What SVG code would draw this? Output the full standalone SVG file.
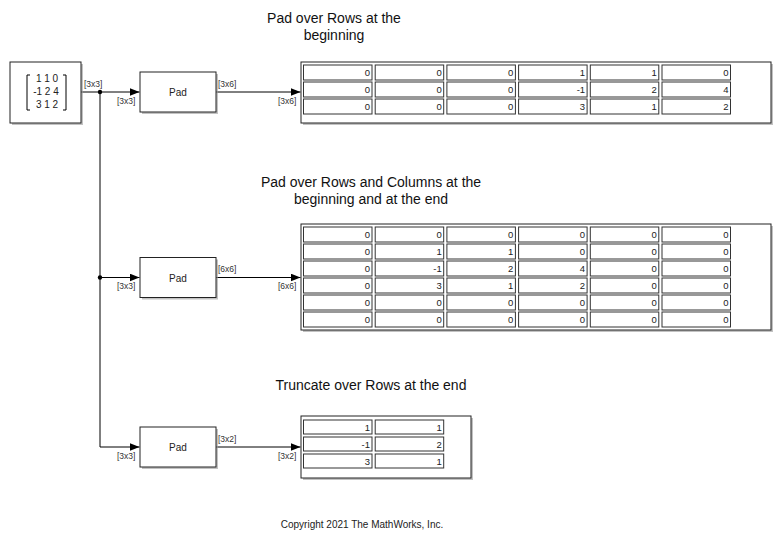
<svg xmlns="http://www.w3.org/2000/svg" width="782" height="543" viewBox="0 0 782 543">
<defs>
<style>
.blk{fill:#fff;stroke:#222;stroke-width:1}
.sh{fill:#999;opacity:0.6}
.cell{fill:#fff;stroke:#333;stroke-width:1}
.v{font-family:"Liberation Sans",Arial,sans-serif;font-size:9.5px;fill:#222;text-anchor:end}
.lbl{font-family:"Liberation Sans",Arial,sans-serif;font-size:8.5px;fill:#333}
.ttl{font-family:"Liberation Sans",Arial,sans-serif;font-size:14px;fill:#111;text-anchor:middle}
.bt{font-family:"Liberation Sans",Arial,sans-serif;font-size:10px;fill:#222;text-anchor:middle}
.ln{fill:none;stroke:#000;stroke-width:1}
</style>
<marker id="ah" markerWidth="10" markerHeight="8" refX="10" refY="4" orient="auto" markerUnits="userSpaceOnUse">
<path d="M0,0 L10,4 L0,8 Z" fill="#000"/>
</marker>
</defs>
<rect width="782" height="543" fill="#fff"/>

<text class="ttl" x="334" y="23">Pad over Rows at the</text>
<text class="ttl" x="334" y="40">beginning</text>
<text class="ttl" x="371" y="187">Pad over Rows and Columns at the</text>
<text class="ttl" x="371" y="204">beginning and at the end</text>
<text class="ttl" x="371" y="390">Truncate over Rows at the end</text>
<text x="362" y="528" style="font-family:'Liberation Sans',Arial,sans-serif;font-size:10px;fill:#222;text-anchor:middle">Copyright 2021 The MathWorks, Inc.</text>

<g id="connectors">
<path class="ln" d="M81,92 H139.5" marker-end="url(#ah)"/>
<path class="ln" d="M100,92 V447 H139.5" marker-end="url(#ah)"/>
<path class="ln" d="M100,277.5 H139.5" marker-end="url(#ah)"/>
<circle cx="100" cy="92" r="2.2" fill="#000"/>
<circle cx="100" cy="277.5" r="2.2" fill="#000"/>
<path class="ln" d="M216,92 H300.5" marker-end="url(#ah)"/>
<path class="ln" d="M216,277.5 H300.5" marker-end="url(#ah)"/>
<path class="ln" d="M216,447 H300.5" marker-end="url(#ah)"/>
<text class="lbl" x="84" y="87">[3x3]</text>
<text class="lbl" x="117" y="104">[3x3]</text>
<text class="lbl" x="218" y="87">[3x6]</text>
<text class="lbl" x="278" y="104">[3x6]</text>
<text class="lbl" x="117" y="289">[3x3]</text>
<text class="lbl" x="218" y="272">[6x6]</text>
<text class="lbl" x="278" y="289">[6x6]</text>
<text class="lbl" x="117" y="459">[3x3]</text>
<text class="lbl" x="218" y="442">[3x2]</text>
<text class="lbl" x="278" y="459">[3x2]</text>
</g>

<g id="constant">
<rect class="sh" x="12" y="64" width="71" height="61"/>
<rect class="blk" x="10" y="62" width="71" height="61"/>
<path class="ln" d="M30,75 H27 V110 H30 M63,75 H66 V110 H63" stroke-width="0.9"/>
<text class="bt" x="47" y="82">1 1 0</text>
<text class="bt" x="46" y="95">-1 2 4</text>
<text class="bt" x="47" y="108">3 1 2</text>
</g>

<g id="pad1">
<rect class="sh" x="142" y="74" width="76" height="40"/>
<rect class="blk" x="140" y="72" width="76" height="40"/>
<text class="bt" x="178" y="96">Pad</text>
</g>
<g id="pad2">
<rect class="sh" x="142" y="259.5" width="76" height="40"/>
<rect class="blk" x="140" y="257.5" width="76" height="40"/>
<text class="bt" x="178" y="281.5">Pad</text>
</g>
<g id="pad3">
<rect class="sh" x="142" y="429" width="76" height="40"/>
<rect class="blk" x="140" y="427" width="76" height="40"/>
<text class="bt" x="178" y="451">Pad</text>
</g>

<g id="display1">
<rect class="sh" x="303" y="64" width="470" height="61"/>
<rect class="blk" x="301" y="62" width="470" height="61"/>
<g>
<rect class="cell" x="303.5" y="65" width="68.5" height="15"/><text class="v" x="370" y="76">0</text>
<rect class="cell" x="375.2" y="65" width="68.5" height="15"/><text class="v" x="441.7" y="76">0</text>
<rect class="cell" x="446.9" y="65" width="68.5" height="15"/><text class="v" x="513.4" y="76">0</text>
<rect class="cell" x="518.6" y="65" width="68.5" height="15"/><text class="v" x="585.1" y="76">1</text>
<rect class="cell" x="590.3" y="65" width="68.5" height="15"/><text class="v" x="656.8" y="76">1</text>
<rect class="cell" x="662" y="65" width="68.5" height="15"/><text class="v" x="728.5" y="76">0</text>
<rect class="cell" x="303.5" y="82" width="68.5" height="15"/><text class="v" x="370" y="93">0</text>
<rect class="cell" x="375.2" y="82" width="68.5" height="15"/><text class="v" x="441.7" y="93">0</text>
<rect class="cell" x="446.9" y="82" width="68.5" height="15"/><text class="v" x="513.4" y="93">0</text>
<rect class="cell" x="518.6" y="82" width="68.5" height="15"/><text class="v" x="585.1" y="93">-1</text>
<rect class="cell" x="590.3" y="82" width="68.5" height="15"/><text class="v" x="656.8" y="93">2</text>
<rect class="cell" x="662" y="82" width="68.5" height="15"/><text class="v" x="728.5" y="93">4</text>
<rect class="cell" x="303.5" y="99" width="68.5" height="15"/><text class="v" x="370" y="110">0</text>
<rect class="cell" x="375.2" y="99" width="68.5" height="15"/><text class="v" x="441.7" y="110">0</text>
<rect class="cell" x="446.9" y="99" width="68.5" height="15"/><text class="v" x="513.4" y="110">0</text>
<rect class="cell" x="518.6" y="99" width="68.5" height="15"/><text class="v" x="585.1" y="110">3</text>
<rect class="cell" x="590.3" y="99" width="68.5" height="15"/><text class="v" x="656.8" y="110">1</text>
<rect class="cell" x="662" y="99" width="68.5" height="15"/><text class="v" x="728.5" y="110">2</text>
</g>
</g>

<g id="display2">
<rect class="sh" x="303" y="226" width="470" height="106"/>
<rect class="blk" x="301" y="224" width="470" height="106"/>
<rect class="cell" x="303.5" y="227" width="68.5" height="15"/><text class="v" x="370" y="238">0</text>
<rect class="cell" x="375.2" y="227" width="68.5" height="15"/><text class="v" x="441.7" y="238">0</text>
<rect class="cell" x="446.9" y="227" width="68.5" height="15"/><text class="v" x="513.4" y="238">0</text>
<rect class="cell" x="518.6" y="227" width="68.5" height="15"/><text class="v" x="585.1" y="238">0</text>
<rect class="cell" x="590.3" y="227" width="68.5" height="15"/><text class="v" x="656.8" y="238">0</text>
<rect class="cell" x="662" y="227" width="68.5" height="15"/><text class="v" x="728.5" y="238">0</text>
<rect class="cell" x="303.5" y="244" width="68.5" height="15"/><text class="v" x="370" y="255">0</text>
<rect class="cell" x="375.2" y="244" width="68.5" height="15"/><text class="v" x="441.7" y="255">1</text>
<rect class="cell" x="446.9" y="244" width="68.5" height="15"/><text class="v" x="513.4" y="255">1</text>
<rect class="cell" x="518.6" y="244" width="68.5" height="15"/><text class="v" x="585.1" y="255">0</text>
<rect class="cell" x="590.3" y="244" width="68.5" height="15"/><text class="v" x="656.8" y="255">0</text>
<rect class="cell" x="662" y="244" width="68.5" height="15"/><text class="v" x="728.5" y="255">0</text>
<rect class="cell" x="303.5" y="261" width="68.5" height="15"/><text class="v" x="370" y="272">0</text>
<rect class="cell" x="375.2" y="261" width="68.5" height="15"/><text class="v" x="441.7" y="272">-1</text>
<rect class="cell" x="446.9" y="261" width="68.5" height="15"/><text class="v" x="513.4" y="272">2</text>
<rect class="cell" x="518.6" y="261" width="68.5" height="15"/><text class="v" x="585.1" y="272">4</text>
<rect class="cell" x="590.3" y="261" width="68.5" height="15"/><text class="v" x="656.8" y="272">0</text>
<rect class="cell" x="662" y="261" width="68.5" height="15"/><text class="v" x="728.5" y="272">0</text>
<rect class="cell" x="303.5" y="278" width="68.5" height="15"/><text class="v" x="370" y="289">0</text>
<rect class="cell" x="375.2" y="278" width="68.5" height="15"/><text class="v" x="441.7" y="289">3</text>
<rect class="cell" x="446.9" y="278" width="68.5" height="15"/><text class="v" x="513.4" y="289">1</text>
<rect class="cell" x="518.6" y="278" width="68.5" height="15"/><text class="v" x="585.1" y="289">2</text>
<rect class="cell" x="590.3" y="278" width="68.5" height="15"/><text class="v" x="656.8" y="289">0</text>
<rect class="cell" x="662" y="278" width="68.5" height="15"/><text class="v" x="728.5" y="289">0</text>
<rect class="cell" x="303.5" y="295" width="68.5" height="15"/><text class="v" x="370" y="306">0</text>
<rect class="cell" x="375.2" y="295" width="68.5" height="15"/><text class="v" x="441.7" y="306">0</text>
<rect class="cell" x="446.9" y="295" width="68.5" height="15"/><text class="v" x="513.4" y="306">0</text>
<rect class="cell" x="518.6" y="295" width="68.5" height="15"/><text class="v" x="585.1" y="306">0</text>
<rect class="cell" x="590.3" y="295" width="68.5" height="15"/><text class="v" x="656.8" y="306">0</text>
<rect class="cell" x="662" y="295" width="68.5" height="15"/><text class="v" x="728.5" y="306">0</text>
<rect class="cell" x="303.5" y="312" width="68.5" height="15"/><text class="v" x="370" y="323">0</text>
<rect class="cell" x="375.2" y="312" width="68.5" height="15"/><text class="v" x="441.7" y="323">0</text>
<rect class="cell" x="446.9" y="312" width="68.5" height="15"/><text class="v" x="513.4" y="323">0</text>
<rect class="cell" x="518.6" y="312" width="68.5" height="15"/><text class="v" x="585.1" y="323">0</text>
<rect class="cell" x="590.3" y="312" width="68.5" height="15"/><text class="v" x="656.8" y="323">0</text>
<rect class="cell" x="662" y="312" width="68.5" height="15"/><text class="v" x="728.5" y="323">0</text>
</g>

<g id="display3">
<rect class="sh" x="303" y="418" width="170" height="62"/>
<rect class="blk" x="301" y="416" width="170" height="62"/>
<rect class="cell" x="303.5" y="420" width="68.5" height="14"/><text class="v" x="370" y="430.5">1</text>
<rect class="cell" x="375.2" y="420" width="68.5" height="14"/><text class="v" x="441.7" y="430.5">1</text>
<rect class="cell" x="303.5" y="437" width="68.5" height="14"/><text class="v" x="370" y="447.5">-1</text>
<rect class="cell" x="375.2" y="437" width="68.5" height="14"/><text class="v" x="441.7" y="447.5">2</text>
<rect class="cell" x="303.5" y="454" width="68.5" height="14"/><text class="v" x="370" y="464.5">3</text>
<rect class="cell" x="375.2" y="454" width="68.5" height="14"/><text class="v" x="441.7" y="464.5">1</text>
</g>
</svg>
